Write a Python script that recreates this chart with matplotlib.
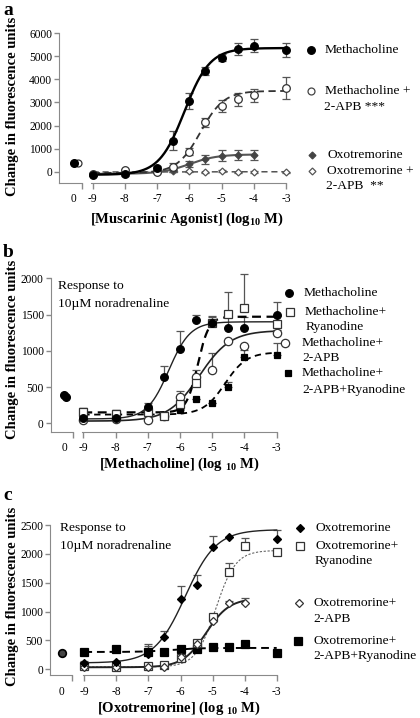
import numpy as np
import matplotlib
matplotlib.use('Agg')
import matplotlib.pyplot as plt
from matplotlib.lines import Line2D

plt.rcParams['font.family'] = ['Liberation Serif', 'DejaVu Serif']
plt.rcParams['mathtext.fontset'] = 'custom'
plt.rcParams['mathtext.rm'] = 'Liberation Serif'
plt.rcParams['mathtext.bf'] = 'Liberation Serif:bold'
plt.rcParams['axes.unicode_minus'] = False

# ---- data: log10 concentration, response (fluorescence units) ----
dose = [-9, -8, -7, -6.5, -6, -5.5, -5, -4.5, -4, -3]
dose_to4 = [-9, -8, -7, -6.5, -6, -5.5, -5, -4.5, -4]
xticks = [-9, -8, -7, -6, -5, -4, -3]

# panel a
a_ctrl_meth = 380
a_ctrl_meth_apb = 380
a_meth = [-110, -100, 170, 1350, 3050, 4350, 4930, 5300, 5450, 5270]
a_meth_err = [60, 60, 100, 400, 350, 180, 150, 270, 270, 300]
a_meth_apb = [-80, 70, 20, 230, 880, 2150, 2850, 3150, 3320, 3610]
a_meth_apb_err = [40, 80, 60, 150, 150, 200, 250, 280, 280, 480]
a_oxo = [-100, -40, -20, 70, 360, 550, 700, 740, 740]
a_oxo_err = [40, 40, 40, 60, 130, 200, 230, 230, 230]
a_oxo_apb = [-90, -30, 10, 40, 30, -10, 50, -10, 0, -10]
a_oxo_apb_err = [30, 30, 30, 30, 30, 30, 30, 30, 30, 30]
# fitted curves: bottom, top, logEC50, hill slope
fit_a_meth = [-120, 5350, -6.15, 1.1]
fit_a_meth_apb = [-40, 3500, -5.65, 1.2]
fit_a_oxo = [-80, 760, -6.0, 1.0]
fit_a_oxo_apb = [0, 10, -6.0, 1.0]

# panel b
b_ctrl = [390, 360]
b_meth = [70, 70, 230, 640, 1030, 1430, 1380, 1320, 1320, 1500]
b_meth_err = [40, 40, 50, 150, 240, 60, 100, 150, 150, 170]
b_ryan = [150, 130, 150, 100, 260, 550, 1380, 1510, 1590, 1365]
b_ryan_err = [60, 50, 30, 40, 30, 60, 80, 300, 470, 110]
b_apb = [40, 60, 40, 100, 360, 640, 730, 1140, 1070, 1240]
b_apb_err = [20, 20, 20, 60, 80, 100, 240, 0, 0, 40]
b_apb_ryan = [110, 100, 130, 110, 180, 330, 280, 500, 920, 940]
b_apb_ryan_err = [100, 80, 40, 20, 20, 0, 0, 70, 90, 170]
fit_b_meth = [60, 1400, -6.35, 1.3]
fit_b_ryan = [150, 1470, -5.45, 2.5]
fit_b_apb = [30, 1280, -5.4, 0.9]
fit_b_apb_ryan = [120, 980, -4.6, 1.3]

# panel c
c_ctrl = 290
c_oxo_dose = [-9, -8, -7, -6.5, -6, -5.5, -5, -4.5, -3]
c_oxo = [110, 130, 260, 560, 1210, 1460, 2120, 2290, 2260]
c_oxo_err = [30, 20, 150, 110, 230, 170, 190, 0, 150]
c_ryan = [50, 40, 50, 70, 200, 450, 900, 1690, 2140, 2030]
c_ryan_err = [0, 0, 0, 0, 40, 40, 60, 150, 130, 0]
c_apb = [45, 40, 45, 45, 220, 430, 840, 1150, 1150]
c_apb_err = [0, 0, 0, 0, 30, 30, 40, 40, 80]
c_apb_ryan = [300, 345, 305, 305, 360, 350, 380, 385, 430, 280]
c_apb_ryan_err = [0, 0, 130, 0, 0, 0, 0, 0, 0, 0]
fit_c_oxo = [110, 2420, -5.85, 0.9]
fit_c_ryan = [40, 2060, -4.9, 1.4]
fit_c_apb = [35, 1230, -5.2, 1.2]
fit_c_apb_ryan = [300, 370, -6.3, 1.0]

W, H = 420, 718
SPINE = '#8a8a8a'
ERR = '#555555'
fig = plt.figure(figsize=(W / 100, H / 100), dpi=100)


def box(x0, x1, ytop, ybot):
    return [x0 / W, 1 - ybot / H, (x1 - x0) / W, (ybot - ytop) / H]


def hill(x, p):
    b, t, ec, h = p
    return b + (t - b) / (1 + 10 ** ((ec - x) * h))


def panel(xl0, xbrk, xm0, xm1, yt, yb, ylim, yticks, ctrl_xlim):
    ax0 = fig.add_axes(box(xl0, xbrk, yt, yb))
    ax1 = fig.add_axes(box(xm0, xm1, yt, yb))
    for ax in (ax0, ax1):
        ax.set_ylim(*ylim)
        ax.patch.set_alpha(0)
        ax.spines['top'].set_visible(False)
        ax.spines['right'].set_visible(False)
        ax.spines['bottom'].set_color(SPINE)
        ax.spines['left'].set_color(SPINE)
        ax.tick_params(colors=SPINE, labelcolor='black', labelsize=8.3,
                       length=3.5, width=1, pad=1.5)
    ax1.spines['left'].set_visible(False)
    ax1.tick_params(left=False, labelleft=False)
    ax1.tick_params(axis='x', length=4, pad=3.5)
    ax0.set_yticks(yticks)
    ax0.set_xlim(*ctrl_xlim)
    ax0.set_xticks([0])
    ax0.tick_params(axis='x', length=0, pad=7.5)
    ax0.set_xticks([ctrl_xlim[1]], minor=True)
    ax0.tick_params(axis='x', which='minor', length=4, width=1, color=SPINE)
    ax1.set_xlim(-9.05, -3)
    ax1.set_xticks(xticks)
    ax1.set_xticklabels([str(v) for v in xticks])
    return ax0, ax1


def points(ax, x, y, err, marker, ms, face, edge, sym=True, mew=0.9):
    err = np.asarray(err, dtype=float)
    lower = err if sym else np.zeros_like(err)
    ax.errorbar(x, y, yerr=[lower, err], fmt='none', ecolor=ERR,
                elinewidth=0.9, capsize=2.8, capthick=0.9, clip_on=False, zorder=2)
    ax.plot(x, y, ls='none', marker=marker, ms=ms, mfc=face, mec=edge,
            mew=mew, clip_on=False, zorder=4)


def curve(ax, p, x0, x1, color, lw, dashes=None):
    xs = np.linspace(x0, x1, 300)
    line, = ax.plot(xs, hill(xs, p), color=color, lw=lw, zorder=3, clip_on=False)
    if dashes:
        line.set_dashes(dashes)


def legend(entries):
    for mk, ms, face, edge, mx, my, lines in entries:
        fig.add_artist(Line2D([mx / W], [1 - my / H], marker=mk, ms=ms, mfc=face,
                              mec=edge, mew=0.9, transform=fig.transFigure))
        for tx, ty, txt in lines:
            fig.text(tx / W, 1 - ty / H, txt, fontsize=9.7, va='center', ha='left')


def labels(letter, ly, ycen, xlab, xlx, xly):
    fig.text(3 / W, 1 - ly / H, letter, fontsize=14, fontweight='bold', va='baseline')
    fig.text(13 / W, 1 - ycen / H, 'Change in fluorescence units', fontsize=10.5,
             fontweight='bold', rotation=90, va='center', ha='center')
    fig.text(xlx / W, 1 - xly / H, xlab, fontsize=10.5, fontweight='bold',
             va='center', ha='center')


# ---------------- panel a ----------------
a0, a1 = panel(59, 81.7, 91, 286, 33, 183, (-475, 6000),
               [0, 1000, 2000, 3000, 4000, 5000, 6000], (-0.66, 0.34))
a0.plot([0], [a_ctrl_meth], 'o', ms=5.5, color='k', zorder=4, clip_on=False)
a0.plot([0.16], [a_ctrl_meth_apb], 'o', ms=5, mfc='w', mec='#333333', mew=0.9,
        zorder=3, clip_on=False)
curve(a1, fit_a_oxo_apb, -9, -3, '#555555', 1.1, (4, 2.5))
curve(a1, fit_a_oxo, -9, -4, '#555555', 1.5)
curve(a1, fit_a_meth_apb, -9, -3, '#333333', 1.3, (4, 2.5))
curve(a1, fit_a_meth, -9, -3, 'black', 1.7)
points(a1, dose, a_oxo_apb, a_oxo_apb_err, 'D', 3.5, 'w', '#555555')
points(a1, dose_to4, a_oxo, a_oxo_err, 'D', 3.5, '#444444', '#444444')
points(a1, dose, a_meth_apb, a_meth_apb_err, 'o', 5.5, 'w', '#333333')
points(a1, dose, a_meth, a_meth_err, 'o', 5.5, 'black', 'black')
legend([
    ('o', 5.5, 'black', 'black', 311, 50, [(325, 50, 'Methacholine')]),
    ('o', 5, 'w', '#444444', 311, 90.7, [(325, 90.7, 'Methacholine +'),
                                         (324, 107, '2-APB ***')]),
    ('D', 3.5, '#444444', '#444444', 312, 155, [(327, 155, 'Oxotremorine')]),
    ('D', 3.5, 'w', '#555555', 312, 170.7, [(327, 170.7, 'Oxotremorine +'),
                                            (326, 186, '2-APB  **')]),
])
labels('a', 15, 106, r'[Muscarinic Agonist] (log$_{\mathbf{10}}$ M)', 187, 219)

# ---------------- panel b ----------------
b0, b1 = panel(50.7, 73.3, 81.7, 276.7, 278.3, 431.7, (-116, 2000),
               [0, 500, 1000, 1500, 2000], (-0.6, 0.4))
b0.plot([0, 0.06], b_ctrl, 'o', ms=5.5, color='k', ls='none', zorder=4, clip_on=False)
curve(b1, fit_b_apb_ryan, -9, -3, 'black', 1.3, (3.5, 2.5))
curve(b1, fit_b_apb, -9, -3, '#222222', 1.2)
curve(b1, fit_b_ryan, -9, -3, 'black', 1.6, (4, 2.5))
curve(b1, fit_b_meth, -9, -3, '#222222', 1.0)
points(b1, dose, b_apb_ryan, b_apb_ryan_err, 's', 4.5, 'black', 'black', sym=False)
points(b1, dose, b_apb, b_apb_err, 'o', 6, 'w', '#333333', sym=False)
points(b1, dose, b_ryan, b_ryan_err, 's', 6, 'w', '#333333', sym=False)
points(b1, dose, b_meth, b_meth_err, 'o', 5.5, 'black', 'black', sym=False)
fig.text(58 / W, 1 - 285.7 / H, 'Response to', fontsize=9.7, va='center')
fig.text(58 / W, 1 - 304 / H, '10\u00b5M noradrenaline', fontsize=9.7, va='center')
legend([
    ('o', 5.5, 'black', 'black', 289, 293.3, [(304, 293.3, 'Methacholine')]),
    ('s', 6, 'w', '#333333', 290, 312.3, [(305, 312.3, 'Methacholine+'),
                                          (306, 326.7, 'Ryanodine')]),
    ('o', 6, 'w', '#333333', 285, 343.3, [(302, 343.3, 'Methacholine+'),
                                          (302, 358.3, '2-APB')]),
    ('s', 4.5, 'black', 'black', 288, 372.7, [(302, 372.7, 'Methacholine+'),
                                              (302, 390, '2-APB+Ryanodine')]),
])
labels('b', 257, 349, r'[Methacholine] (log $_{\mathbf{10}}$ M)', 179, 464.3)

# ---------------- panel c ----------------
c0, c1 = panel(50, 72.3, 82.7, 276.7, 525, 675.3, (-104, 2500),
               [0, 500, 1000, 1500, 2000, 2500], (-0.52, 0.48))
c0.plot([0], [c_ctrl], 'o', ms=5.5, mfc='#444444', mec='black', mew=1.2,
        zorder=4, clip_on=False)
curve(c1, fit_c_apb_ryan, -9, -3, 'black', 1.4, (4, 2.5))
curve(c1, fit_c_ryan, -9, -3, '#666666', 0.8, (2, 1.5))
curve(c1, fit_c_apb, -9, -4, '#222222', 1.4)
curve(c1, fit_c_oxo, -9, -3, '#222222', 1.0)
points(c1, dose, c_apb_ryan, c_apb_ryan_err, 's', 5.5, 'black', 'black', sym=False)
points(c1, dose, c_ryan, c_ryan_err, 's', 5.5, 'w', '#333333', sym=False)
points(c1, dose_to4, c_apb, c_apb_err, 'D', 4.5, 'w', '#333333', sym=False)
points(c1, c_oxo_dose, c_oxo, c_oxo_err, 'D', 4, 'black', 'black', sym=False)
fig.text(60 / W, 1 - 527.7 / H, 'Response to', fontsize=9.7, va='center')
fig.text(60 / W, 1 - 545.7 / H, '10\u00b5M noradrenaline', fontsize=9.7, va='center')
legend([
    ('D', 4, 'black', 'black', 300, 528.3, [(315, 528.3, 'Oxotremorine')]),
    ('s', 5.5, 'w', '#333333', 300, 545.7, [(315, 545.7, 'Oxotremorine+'),
                                            (315, 561, 'Ryanodine')]),
    ('D', 4.5, 'w', '#333333', 299, 603, [(313, 603, 'Oxotremorine+'),
                                          (313, 619.3, '2-APB')]),
    ('s', 5.5, 'black', 'black', 298, 640.7, [(313, 640.7, 'Oxotremorine+'),
                                              (313, 656, '2-APB+Ryanodine')]),
])
labels('c', 500, 596, r'[Oxotremorine] (log $_{\mathbf{10}}$ M)', 178.5, 708.3)

fig.savefig('out.png', dpi=100)
